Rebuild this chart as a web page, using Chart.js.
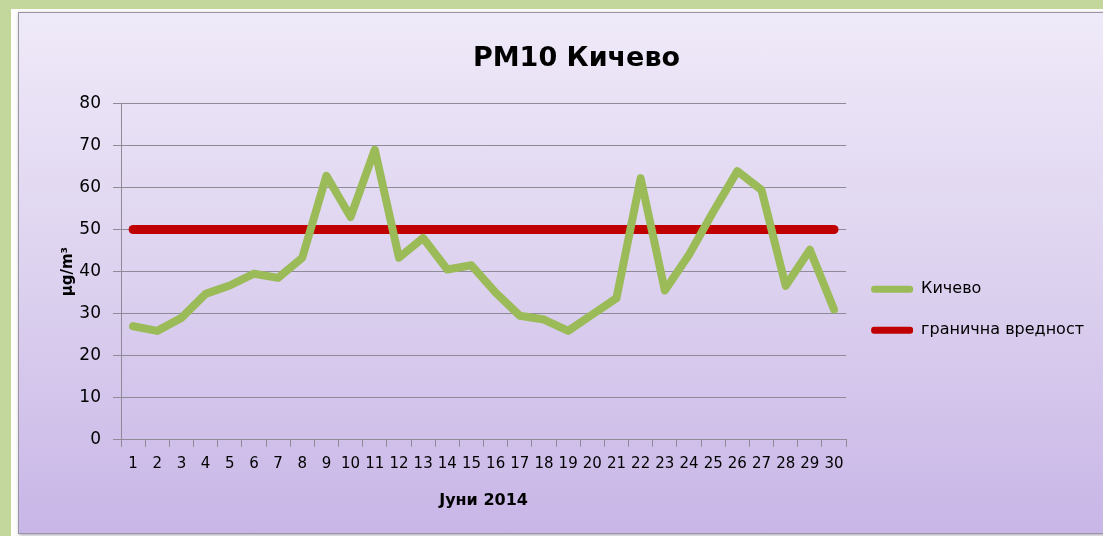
<!DOCTYPE html>
<html>
<head>
<meta charset="utf-8">
<script src="https://cdn.jsdelivr.net/npm/chart.js@4.4.1/dist/chart.umd.min.js"></script>
<style>
  html, body { margin: 0; padding: 0; }
  body { width: 1103px; height: 536px; overflow: hidden; background: #c3d69b; position: relative; }
  .frame { position: absolute; left: 11px; top: 9px; right: 0; bottom: 0; background: #fdfdfd; }
  .panel {
    position: absolute; left: 18px; top: 12px; width: 1090px; height: 520px;
    border: 1px solid #9a94a4;
    box-shadow: 1px 1px 3px rgba(80, 70, 100, 0.5);
    background: linear-gradient(to bottom, #efeaf9 0%, #ddd2ef 50%, #c8b6e7 100%);
  }
  .box { position: absolute; left: 0; top: 0; width: 1084px; height: 519px; }
</style>
</head>
<body>
<div class="frame"></div>
<div class="panel">
  <div class="box"><canvas id="pm10Chart"></canvas></div>
</div>
<script>
// days of June 2014
const days = ['1','2','3','4','5','6','7','8','9','10','11','12','13','14','15',
              '16','17','18','19','20','21','22','23','24','25','26','27','28','29','30'];
// PM10 Kichevo, µg/m3
const kichevo = [27, 25.9, 29, 34.7, 36.7, 39.5, 38.5, 43.3, 62.8, 53, 69, 43.3, 48, 40.5, 41.5,
                 35, 29.5, 28.6, 25.9, 29.8, 33.7, 62.2, 35.5, 44, 54.2, 63.9, 59.4, 36.6, 45.2, 31];
// limit value
const limitValue = [50, 50, 50, 50, 50, 50, 50, 50, 50, 50, 50, 50, 50, 50, 50,
                    50, 50, 50, 50, 50, 50, 50, 50, 50, 50, 50, 50, 50, 50, 50];
const yTicks = [0, 10, 20, 30, 40, 50, 60, 70, 80];

const fontName = '"DejaVu Sans", sans-serif';
const gridGray = '#8e8a96';

var ctx = document.getElementById('pm10Chart').getContext('2d');
var pm10Chart = new Chart(ctx, {
    type: 'line',
    data: {
        labels: days,
        datasets: [{
            label: 'Кичево',
            data: kichevo,
            borderColor: '#9bbb59',
            backgroundColor: '#9bbb59',
            borderWidth: 8,
            borderJoinStyle: 'round',
            borderCapStyle: 'round',
            pointRadius: 0,
            tension: 0
        }, {
            label: 'гранична вредност',
            data: limitValue,
            borderColor: '#c00000',
            backgroundColor: '#c00000',
            borderWidth: 9,
            borderCapStyle: 'round',
            pointRadius: 0,
            tension: 0
        }]
    },
    options: {
        responsive: true,
        maintainAspectRatio: false,
        animation: false,
        layout: {
            padding: { left: 40, right: 9, top: 0, bottom: 18 }
        },
        plugins: {
            title: {
                display: true,
                text: 'PM10 Кичево',
                color: '#000',
                font: { family: fontName, size: 27, weight: 'bold' },
                padding: { top: 30, bottom: 28 }
            },
            legend: {
                position: 'right',
                title: { display: true, text: '', padding: { top: 78 } },
                labels: {
                    color: '#000',
                    font: { family: fontName, size: 16 },
                    boxWidth: 42,
                    boxHeight: 7,
                    useBorderRadius: true,
                    borderRadius: 3,
                    padding: 25,
                    generateLabels: function (chart) {
                        const items = Chart.defaults.plugins.legend.labels.generateLabels(chart);
                        items.forEach(function (it) {
                            it.lineWidth = 0;
                            it.fillStyle = it.strokeStyle;
                        });
                        return items;
                    }
                }
            },
            tooltip: { enabled: false }
        },
        scales: {
            x: {
                offset: true,
                grid: {
                    display: true,
                    drawOnChartArea: false,
                    drawTicks: true,
                    tickLength: 7,
                    offset: true,
                    color: gridGray
                },
                border: { color: gridGray },
                ticks: {
                    color: '#000',
                    font: { family: fontName, size: 15 },
                    autoSkip: false,
                    maxRotation: 0,
                    padding: 8
                },
                title: {
                    display: true,
                    text: 'Јуни 2014',
                    color: '#000',
                    font: { family: fontName, size: 16, weight: 'bold' },
                    padding: { top: 10 }
                }
            },
            y: {
                min: 0,
                max: 80,
                afterBuildTicks: function (scale) {
                    scale.ticks = yTicks.map(function (v) { return { value: v }; });
                },
                afterFit: function (scale) {
                    scale.width = 62;
                },
                grid: {
                    color: gridGray,
                    tickLength: 8
                },
                border: { color: gridGray },
                ticks: {
                    color: '#000',
                    font: { family: fontName, size: 17 },
                    padding: 12
                },
                title: {
                    display: true,
                    text: 'µg/m³',
                    color: '#000',
                    font: { family: fontName, size: 15, weight: 'bold' },
                    padding: 0
                }
            }
        }
    }
});
</script>
</body>
</html>
